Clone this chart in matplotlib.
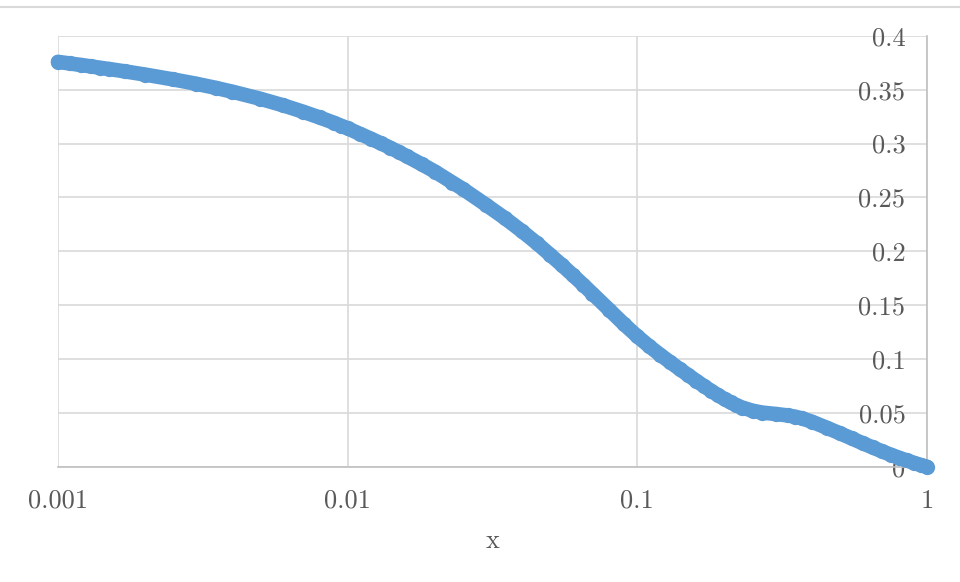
import numpy as np
import matplotlib.pyplot as plt
from matplotlib.ticker import NullLocator

# values
x = [0.001, 0.0011, 0.0012, 0.0013, 0.0014, 0.0015, 0.0017, 0.002, 0.0025,
     0.003, 0.0035, 0.004, 0.005, 0.006, 0.007, 0.008, 0.009, 0.0095, 0.01,
     0.011, 0.012, 0.013, 0.014, 0.015, 0.016, 0.018, 0.02, 0.023, 0.025, 0.03,
     0.035, 0.04, 0.045, 0.05, 0.055, 0.06, 0.065, 0.07, 0.08, 0.09, 0.1,
     0.11, 0.12, 0.13, 0.14, 0.15, 0.16, 0.17, 0.18, 0.19, 0.2, 0.21, 0.22, 0.23, 0.25,
     0.27, 0.3, 0.33, 0.35, 0.37, 0.4, 0.45, 0.5, 0.55, 0.6, 0.65, 0.7, 0.75,
     0.8, 0.85, 0.9, 0.95, 1.0]
y = [0.3758, 0.3743, 0.3729, 0.3716, 0.3703, 0.3692, 0.3670, 0.3640, 0.3595,
     0.3555, 0.3517, 0.3481, 0.3415, 0.3354, 0.3296, 0.3242, 0.3191, 0.3165, 0.3141,
     0.3091, 0.3046, 0.3003, 0.2962, 0.2922, 0.2882, 0.2808, 0.2740, 0.2638, 0.2578, 0.2432,
     0.2305, 0.2186, 0.2075, 0.1968, 0.1870, 0.1777, 0.1690, 0.1607, 0.1457, 0.1323, 0.1211,
     0.1118, 0.1039, 0.0970, 0.0907, 0.0850, 0.0797, 0.0748, 0.0704, 0.0664, 0.0628, 0.0597, 0.0571, 0.0550, 0.0520,
     0.0503, 0.0490, 0.0477, 0.0465, 0.0449, 0.0419, 0.0363, 0.0311, 0.0263, 0.0218, 0.0179, 0.0143, 0.0112,
     0.0084, 0.0059, 0.0037, 0.0017, 0.0]

x_ticks = [0.001, 0.01, 0.1, 1]
x_labels = ['0.001', '0.01', '0.1', '1']
y_ticks = [0, 0.05, 0.1, 0.15, 0.2, 0.25, 0.3, 0.35, 0.4]
y_labels = ['0', '0.05', '0.1', '0.15', '0.2', '0.25', '0.3', '0.35', '0.4']

plt.rcParams['font.family'] = ['cmr10', 'DejaVu Serif']
plt.rcParams['axes.formatter.use_mathtext'] = True

fig = plt.figure(figsize=(9.6, 5.82), dpi=100)
ax = fig.add_axes([0.0604, 0.198, 0.9052, 0.7405])
ax.set_xscale('log')
ax.set_xlim(0.001, 1)
ax.set_ylim(0, 0.4)

blue = '#5B9BD5'
ax.plot(x, y, color=blue, lw=10.5, marker='o', ms=11.0, mec=blue, mew=0,
        solid_capstyle='round', solid_joinstyle='round', clip_on=False, zorder=3)

ax.set_xticks(x_ticks)
ax.set_xticklabels(x_labels)
ax.xaxis.set_minor_locator(NullLocator())
ax.set_yticks(y_ticks)
ax.yaxis.tick_right()
ax.set_yticklabels(y_labels, ha='right')
ax.tick_params(axis='y', length=0, pad=-15.5, labelsize=19, labelcolor='#595959')
ax.tick_params(axis='x', length=0, pad=16, labelsize=19, labelcolor='#595959')

ax.grid(True, color='#d9d9d9', lw=1.2)
ax.set_axisbelow(True)
for s in ['left', 'top']:
    ax.spines[s].set_visible(False)
for s in ['right', 'bottom']:
    ax.spines[s].set_color('#bfbfbf')
    ax.spines[s].set_linewidth(1.2)

ax.set_xlabel('x', fontsize=19, color='#595959', labelpad=12)

# thin border line along the top of the chart area
fig.add_artist(plt.Line2D([0, 1], [1 - 6.5 / 582, 1 - 6.5 / 582], color='#d9d9d9', lw=1.5))

fig.savefig('out.png', dpi=100)
